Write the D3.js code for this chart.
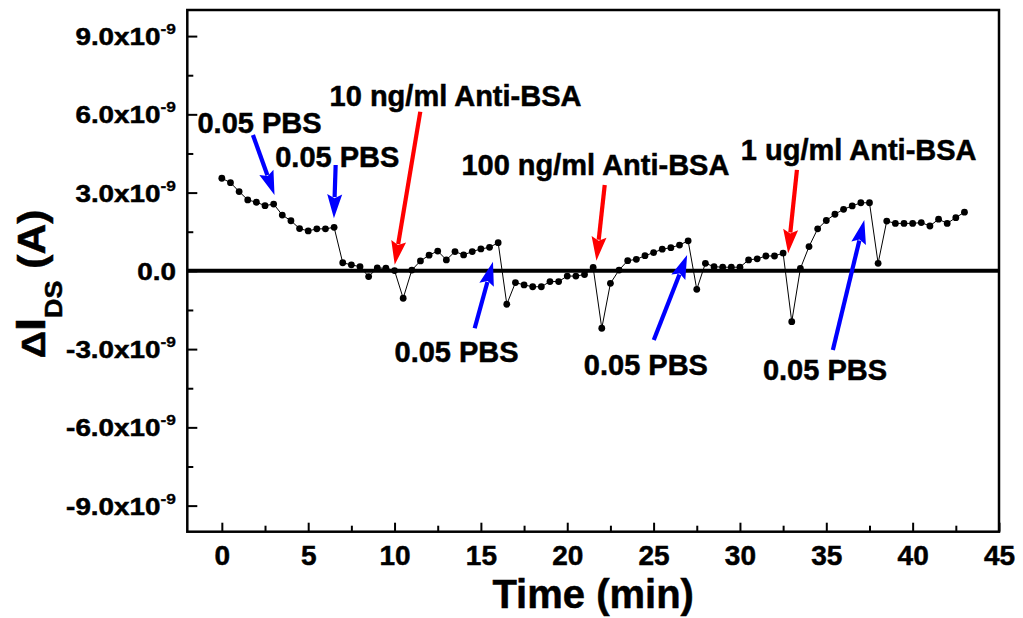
<!DOCTYPE html>
<html><head><meta charset="utf-8">
<script src="https://cdn.jsdelivr.net/npm/d3@7"></script>
<style>
body{margin:0;background:#fff}
svg{display:block}
text{font-family:Arial,"Liberation Sans",sans-serif;font-weight:bold;fill:#000;stroke:#000;stroke-width:0.5px}
</style>
</head><body>
<svg id="c" width="1023" height="618"></svg>
<script>
// ---- data (current in units of 1e-9 A) ----
const times = [0,0.5,1,1.5,2,2.5,3,3.5,4,4.5,5,5.5,6,6.5,7,7.5,8,8.5,9,9.5,
  10,10.5,11,11.5,12,12.5,13,13.5,14,14.5,15,15.5,16,16.5,17,17.5,18,18.5,19,19.5,
  20,20.5,21,21.5,22,22.5,23,23.5,24,24.5,25,25.5,26,26.5,27,27.5,28,28.5,29,29.5,
  30,30.5,31,31.5,32,32.5,33,33.5,34,34.5,35,35.5,36,36.5,37,37.5,38,38.5,39,39.5,
  40,40.5,41,41.5,42,42.5,43];
const deltaIds = [3.55,3.38,3.04,2.72,2.63,2.50,2.56,2.14,1.92,1.62,1.53,1.61,1.61,1.67,0.31,0.23,0.16,-0.22,0.11,0.10,
  0.01,-1.05,0.03,0.38,0.60,0.76,0.42,0.74,0.61,0.74,0.84,0.90,1.08,-1.28,-0.45,-0.54,-0.61,-0.61,-0.41,-0.41,
  -0.20,-0.20,-0.14,0.13,-2.20,-0.48,0.03,0.39,0.44,0.58,0.70,0.83,0.89,0.99,1.15,-0.71,0.29,0.16,0.14,0.14,
  0.14,0.42,0.46,0.57,0.57,0.68,-1.95,0.09,0.93,1.61,1.93,2.17,2.36,2.49,2.61,2.61,0.29,1.91,1.82,1.82,
  1.82,1.85,1.72,1.98,1.82,2.04,2.25];

const xMajorTicks = [0,5,10,15,20,25,30,35,40,45];
const xMinorTicks = [2.5,7.5,12.5,17.5,22.5,27.5,32.5,37.5,42.5];
const yMajorTicks = [-9,-6,-3,0,3,6,9];
const yMinorTicks = [-7.5,-4.5,-1.5,1.5,4.5,7.5];
const yTickLabels = ["-9.0","-6.0","-3.0","0.0","3.0","6.0","9.0"];
const yTickExp = "-9";

// annotation texts (left/baseline anchor, in data units)
const annoTexts = ["0.05 PBS","0.05 PBS","10 ng/ml Anti-BSA","100 ng/ml Anti-BSA","1 ug/ml Anti-BSA","0.05 PBS","0.05 PBS","0.05 PBS"];
const annoTextT = [-1.41, 3.09, 6.24, 13.87, 30.05, 10.0, 20.96, 31.33];
const annoTextV = [5.27, 3.99, 6.32, 3.68, 4.25, -3.49, -3.99, -4.18];

// arrows: tail (t,v) -> tip (t,v)
const arrowColor = ["#0000ff","#0000ff","#ff0000","#ff0000","#ff0000","#0000ff","#0000ff","#0000ff"];
const arrowTailT = [1.80, 6.59, 11.49, 22.17, 33.30, 14.64, 25.01, 35.38];
const arrowTailV = [5.21, 4.06, 6.10, 3.29, 3.87, -2.20, -2.65, -3.03];
const arrowTipT  = [3.05, 6.49, 10.01, 21.69, 32.79, 15.70, 26.94, 37.20];
const arrowTipV  = [2.91, 2.02, 0.23, 0.39, 0.67, 0.35, 0.61, 1.95];

// ---- layout ----
const L = 187.3, R = 999, T = 10, B = 531.7;
const svg = d3.select("#c");
const x = d3.scaleLinear().domain([-2,45]).range([L,R]);
const y = d3.scaleLinear().domain([-10,10]).range([B,T]);

// ticks (inward)
const gx = svg.append("g").attr("transform",`translate(0,${B})`);
gx.call(d3.axisBottom(x).tickValues(xMajorTicks).tickSize(-9).tickPadding(13.4).tickFormat(d3.format("d")));
gx.select(".domain").remove();
gx.selectAll(".tick line").attr("stroke","#000").attr("stroke-width",2);
gx.selectAll(".tick text").attr("font-size",28).attr("font-family","Arial, 'Liberation Sans', sans-serif").attr("font-weight","bold").attr("fill","#000");
const gxm = svg.append("g").attr("transform",`translate(0,${B})`);
gxm.call(d3.axisBottom(x).tickValues(xMinorTicks).tickSize(-6).tickFormat(""));
gxm.select(".domain").remove();
gxm.selectAll(".tick line").attr("stroke","#000").attr("stroke-width",2);

const gy = svg.append("g").attr("transform",`translate(${L},0)`);
gy.call(d3.axisLeft(y).tickValues(yMajorTicks).tickSize(-10).tickFormat(""));
gy.select(".domain").remove();
gy.selectAll(".tick line").attr("stroke","#000").attr("stroke-width",2);
const gym = svg.append("g").attr("transform",`translate(${L},0)`);
gym.call(d3.axisLeft(y).tickValues(yMinorTicks).tickSize(-6).tickFormat(""));
gym.select(".domain").remove();
gym.selectAll(".tick line").attr("stroke","#000").attr("stroke-width",2);

// y tick labels
yMajorTicks.forEach((v,i)=>{
  const g = svg.append("g").attr("transform",`translate(176,${y(v)+9}) scale(1.16,1)`);
  const t = g.append("text").attr("text-anchor","end").attr("font-size",24);
  if (v === 0) {
    t.text(yTickLabels[i]);
  } else {
    t.append("tspan").text(yTickLabels[i] + "x10");
    t.append("tspan").attr("font-size",15).attr("dy",-11).style("stroke-width","0.3px").text(yTickExp);
  }
});

// frame
svg.append("rect").attr("x",L).attr("y",T).attr("width",R-L).attr("height",B-T)
  .attr("fill","none").attr("stroke","#000").attr("stroke-width",2.5);

// zero line
svg.append("line").attr("x1",L).attr("x2",R).attr("y1",y(0)).attr("y2",y(0))
  .attr("stroke","#000").attr("stroke-width",4);

// data line + dots
const pts = times.map((t,i)=>[t,deltaIds[i]]);
svg.append("path").datum(pts)
  .attr("d", d3.line().x(d=>x(d[0])).y(d=>y(d[1])))
  .attr("fill","none").attr("stroke","#000").attr("stroke-width",1);
svg.append("g").selectAll("circle").data(pts).join("circle")
  .attr("cx",d=>x(d[0])).attr("cy",d=>y(d[1])).attr("r",3.4).attr("fill","#000");

// arrows
const gA = svg.append("g");
arrowColor.forEach((c,i)=>{
  const x0 = x(arrowTailT[i]), y0 = y(arrowTailV[i]);
  const x1 = x(arrowTipT[i]), y1 = y(arrowTipV[i]);
  const dx = x1-x0, dy = y1-y0, len = Math.hypot(dx,dy);
  const ux = dx/len, uy = dy/len, nx = -uy, ny = ux;
  const HL = 24, HW = 7.5;
  const bx = x1 - ux*HL, by = y1 - uy*HL;
  gA.append("line").attr("x1",x0).attr("y1",y0).attr("x2",bx+ux*3).attr("y2",by+uy*3)
    .attr("stroke",c).attr("stroke-width",4.2);
  gA.append("polygon")
    .attr("points",[[x1,y1],[bx+nx*HW,by+ny*HW],[bx+ux*4,by+uy*4],[bx-nx*HW,by-ny*HW]].map(p=>p.join(",")).join(" "))
    .attr("fill",c);
});

// annotation texts
annoTexts.forEach((s,i)=>{
  svg.append("text").attr("x",x(annoTextT[i])).attr("y",y(annoTextV[i]))
    .attr("font-size",29).text(s);
});

// axis titles
svg.append("text").attr("x",(L+R)/2).attr("y",608).attr("text-anchor","middle")
  .attr("font-size",40).text("Time (min)");

const yt = svg.append("g").attr("transform","translate(45,284) rotate(-90) scale(1.12,1)")
  .append("text").attr("text-anchor","middle");
yt.append("tspan").attr("font-size",34).text("\u0394");
yt.append("tspan").attr("font-size",42).text("I");
yt.append("tspan").attr("font-size",24).attr("dy",17).text("DS");
yt.append("tspan").attr("font-size",38).attr("dy",-17).text(" (A)");
</script>
</body></html>
